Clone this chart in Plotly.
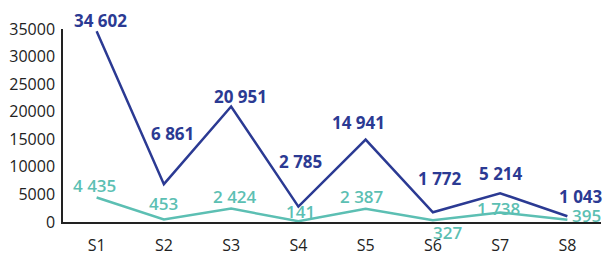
import plotly.graph_objects as go

categories = ["S1", "S2", "S3", "S4", "S5", "S6", "S7", "S8"]
series_a = [34602, 6861, 20951, 2785, 14941, 1772, 5214, 1043]
series_b = [4435, 453, 2424, 141, 2387, 327, 1738, 395]

# label offsets in pixels (style only)
a_dx = [4, 9, 9, 2, -7, 7, 1, 14]
a_dy = [11, 51, 10, 45, 17, 34, 20, 20]
b_dx = [-2, 0, 4, 2, -4, 15, -2, 19]
b_dy = [12, 16, 12, 10, 12, -12, 4, 4]

C_A = "#2B3A93"
C_B = "#5CBFB3"

def fmt(v):
    return f"{v:,}".replace(",", " ")

fig = go.Figure()
fig.add_trace(go.Scatter(x=categories, y=series_a, mode="lines",
                         line=dict(color=C_A, width=2.5), showlegend=False, cliponaxis=False))
fig.add_trace(go.Scatter(x=categories, y=series_b, mode="lines",
                         line=dict(color=C_B, width=2.5), showlegend=False, cliponaxis=False))

for c, v, dx, dy in zip(categories, series_a, a_dx, a_dy):
    fig.add_annotation(x=c, y=v, text=fmt(v), showarrow=False, xshift=dx, yshift=dy,
                       yanchor="middle", font=dict(family="Open Sans", size=17, color=C_A, weight="bold"))
for c, v, dx, dy in zip(categories, series_b, b_dx, b_dy):
    fig.add_annotation(x=c, y=v, text=fmt(v), showarrow=False, xshift=dx, yshift=dy,
                       yanchor="middle", font=dict(family="Open Sans", size=17, color=C_B, weight=600))

fig.update_layout(
    width=607, height=256,
    margin=dict(l=63, r=6, t=29, b=34),
    paper_bgcolor="white", plot_bgcolor="white",
    font=dict(family="Open Sans", size=16, color="#222222"),
)
fig.update_xaxes(showgrid=False, showline=True, linecolor="#222222", linewidth=1.5,
                 ticks="", ticklabelstandoff=8, range=[-0.5, 7.5], automargin=False)
fig.update_yaxes(showgrid=False, showline=True, linecolor="#222222", linewidth=1.5,
                 range=[0, 35000], dtick=5000, tickformat="d", ticks="",
                 ticklabelstandoff=3, zeroline=False, automargin=False)

fig.write_html("out.html", config={"displayModeBar": False},
               post_script="document.body.style.margin='0';document.body.style.overflow='hidden';")
